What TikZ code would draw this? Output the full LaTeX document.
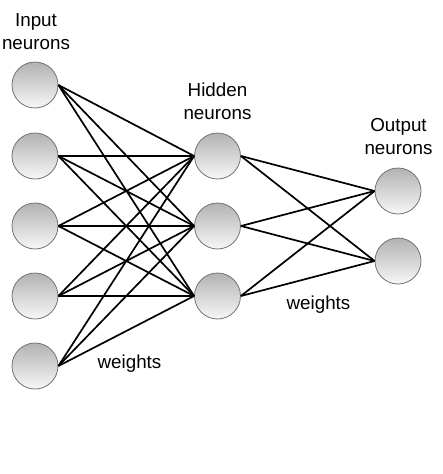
\documentclass[tikz,border=0pt]{standalone}
\usepackage{fontspec}
\setmainfont{Liberation Sans}
\colorlet{rim}{black!55}
\tikzset{
    neuron/.style={circle,draw=rim,line width=0.8pt,minimum size=46pt,inner sep=0pt,
        top color=black!30,bottom color=black!3},
    lbl/.style={align=center,inner sep=0pt,font=\fontsize{18.8}{23.5}\selectfont},
    wire/.style={black,line width=1.7pt}
}
\begin{document}
\begin{tikzpicture}[x=1pt,y=-1pt]
        \useasboundingbox (0,0) rectangle (442,474);
        \foreach \i/\y in {1/85,2/156,3/226,4/296,5/366} {
            \node [neuron] (in\i) at (35,\y) {};
        }
        \foreach \j/\y in {1/156,2/226,3/296} {
            \node [neuron] (hid\j) at (217.5,\y) {};
        }
        \foreach \k/\y in {1/191,2/261} {
            \node [neuron] (out\k) at (398,\y) {};
        }
        \foreach \i in {1,...,5} {
            \foreach \j in {1,2,3} {
                \draw [wire] (in\i.east) -- (hid\j.west);
            }
        }
        \foreach \j in {1,2,3} {
            \foreach \k in {1,2} {
                \draw [wire] (hid\j.east) -- (out\k.west);
            }
        }
        \node [lbl] (inlbl) at (36,31.5) {Input\\neurons};
        \node [lbl] (hidlbl) at (217.5,101.5) {Hidden\\neurons};
        \node [lbl] (outlbl) at (398.5,136.5) {Output\\neurons};
        \node [lbl] (wleft) at (129.5,363.5) {weights};
        \node [lbl] (wright) at (318.5,305) {weights};
    \end{tikzpicture}
\end{document}
